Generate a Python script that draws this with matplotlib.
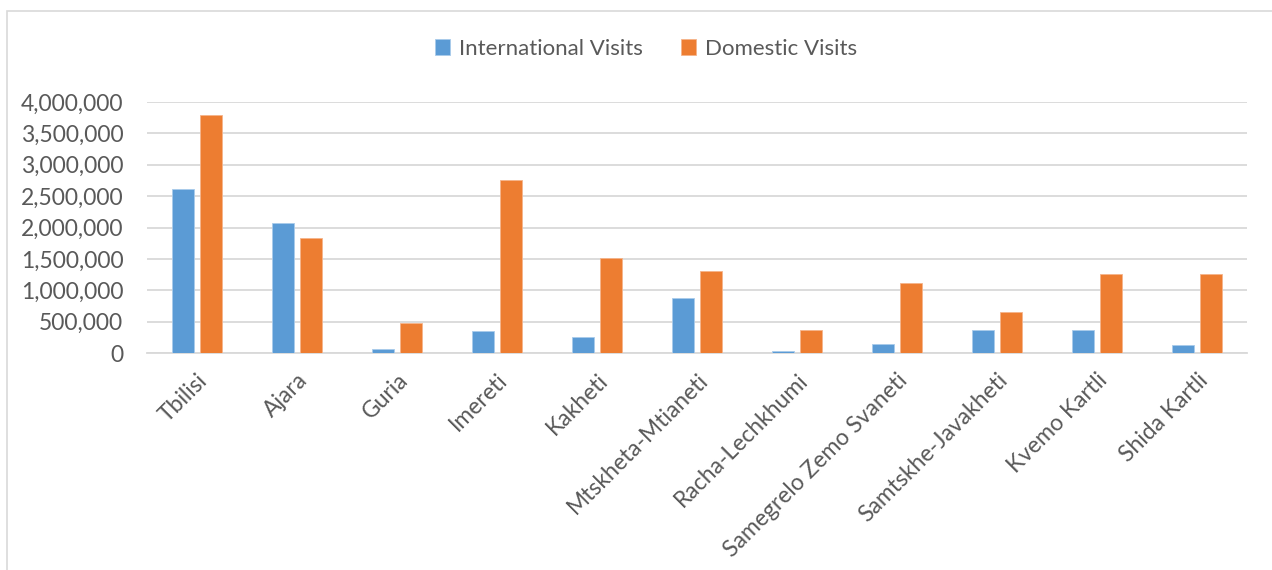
import matplotlib
matplotlib.use("Agg")
import matplotlib.pyplot as plt
import numpy as np
from matplotlib.ticker import FuncFormatter, MultipleLocator
from matplotlib.patches import Rectangle

categories = ["Tbilisi", "Ajara", "Guria", "Imereti", "Kakheti", "Mtskheta-Mtianeti",
              "Racha-Lechkhumi", "Samegrelo Zemo Svaneti", "Samtskhe-Javakheti",
              "Kvemo Kartli", "Shida Kartli"]
international = [2620000, 2070000, 60000, 350000, 260000, 870000, 35000, 140000, 360000, 360000, 130000]
domestic = [3790000, 1840000, 485000, 2760000, 1510000, 1310000, 360000, 1120000, 650000, 1260000, 1260000]
series_names = ["International Visits", "Domestic Visits"]

blue = "#5B9BD5"
orange = "#ED7D31"
text_color = "#595959"

plt.rcParams['font.family'] = ['Lato', 'DejaVu Sans']

W, H = 1272, 570
fig = plt.figure(figsize=(W / 100, H / 100), dpi=100)
ax = fig.add_axes([147 / W, 1 - 353 / H, (1247 - 147) / W, (353 - 102) / H])

x = np.arange(len(categories))
bw = 0.22
off = 0.142
b1 = ax.bar(x - off, international, width=bw, color=blue, edgecolor="#a9cbeb", linewidth=0.6,
            label=series_names[0], zorder=3)
b2 = ax.bar(x + off, domestic, width=bw, color=orange, edgecolor="#f5b48a", linewidth=0.6,
            label=series_names[1], zorder=3)

ax.set_xlim(-0.5, len(categories) - 0.5)
ax.set_ylim(0, 4000000)
ax.yaxis.set_major_locator(MultipleLocator(500000))
ax.yaxis.set_major_formatter(FuncFormatter(lambda v, p: f"{int(v):,}"))
ax.grid(axis="y", color="#d9d9d9", linewidth=1.3, zorder=0)
ax.set_axisbelow(True)
for s in ["top", "right", "left"]:
    ax.spines[s].set_visible(False)
ax.spines["bottom"].set_color("#d9d9d9")
ax.spines["bottom"].set_linewidth(1.3)
ax.tick_params(axis="both", length=0, colors=text_color, labelsize=16.5)
ax.tick_params(axis="y", pad=17)
ax.set_xticks(x)
ax.set_xticklabels(categories, rotation=45, ha="right", rotation_mode="anchor",
                   fontsize=16.5, color=text_color)
ax.tick_params(axis="x", pad=12)

leg = fig.legend(handles=[b1, b2], labels=series_names, loc="center",
                 bbox_to_anchor=(0.508, 1 - 49 / H), ncol=2, frameon=False,
                 fontsize=16, handlelength=0.7, handleheight=0.7, handletextpad=0.4,
                 columnspacing=1.7)
for t in leg.get_texts():
    t.set_color(text_color)

# outer chart border
fig.patches.append(Rectangle((7 / W, -0.1), 1.2, 1 - 11 / H + 0.1, transform=fig.transFigure,
                             fill=False, edgecolor="#d9d9d9", linewidth=1.2))

fig.savefig("out.png", dpi=100)
